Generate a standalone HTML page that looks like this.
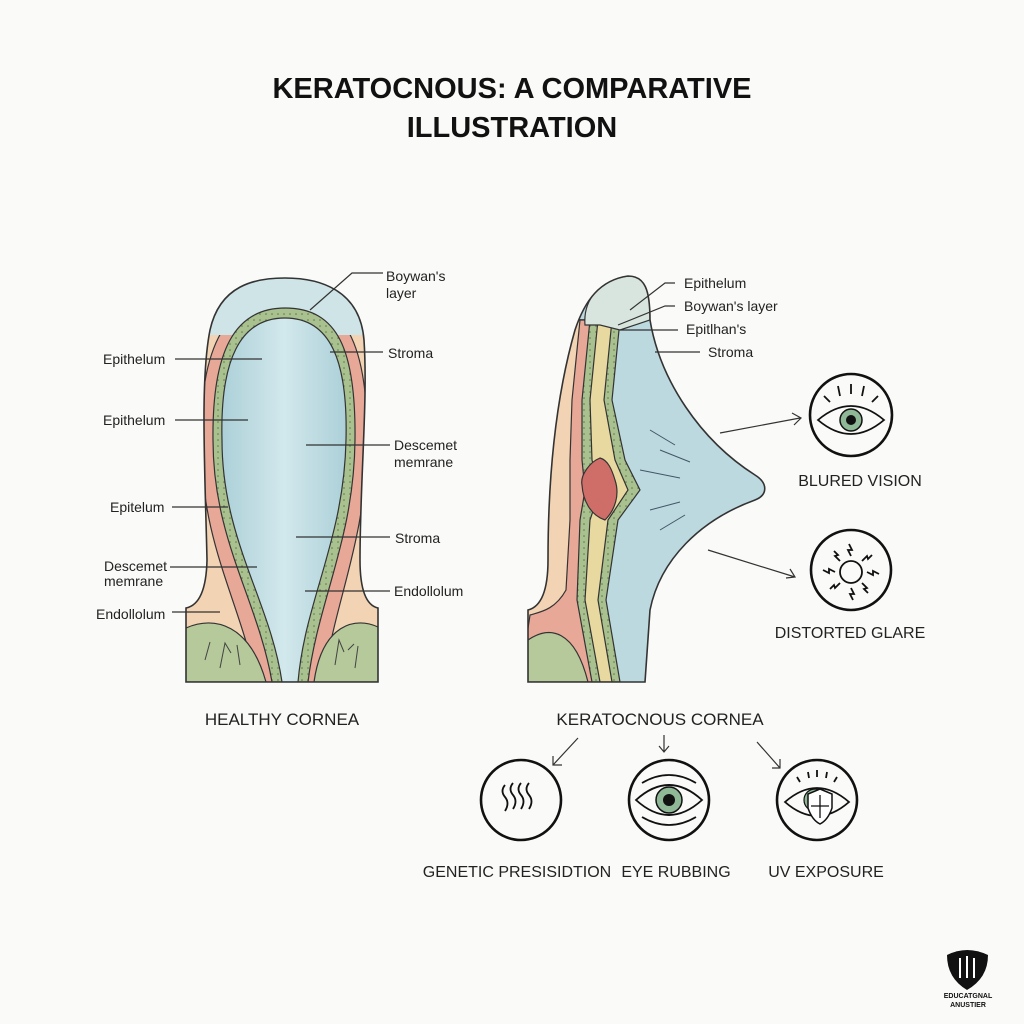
<!DOCTYPE html>
<html><head><meta charset="utf-8"><style>
html,body{margin:0;padding:0;background:#fafaf8;}
svg{display:block}
text{font-family:"Liberation Sans",sans-serif;fill:#222}
</style></head><body>
<svg width="1024" height="1024" viewBox="0 0 1024 1024" xmlns="http://www.w3.org/2000/svg">
<rect width="1024" height="1024" fill="#fafaf8"/>
<defs>
<pattern id="dots" width="6" height="6" patternUnits="userSpaceOnUse"><rect width="6" height="6" fill="#a9c08f"/><circle cx="2" cy="2" r="0.8" fill="#5d7a4c"/></pattern>
<linearGradient id="lens" x1="0" x2="1"><stop offset="0" stop-color="#acd0d8"/><stop offset="0.5" stop-color="#d2e8ec"/><stop offset="1" stop-color="#acd0d8"/></linearGradient>
<clipPath id="lc"><path d="M186,682 L186,608 Q206,604 207,560 C205,470 200,380 210,330 C220,285 255,278 285,278 C320,278 360,290 364,340 C368,400 360,480 360,560 Q360,604 378,608 L378,682 Z"/></clipPath>
<clipPath id="rc"><path d="M528,682 L528,610 Q548,605 548,560 C548,480 555,400 575,330 C585,300 600,280 628,276 C645,276 650,290 650,320 C660,380 700,440 755,475 C768,483 768,495 755,500 C700,520 660,560 650,610 L645,682 Z"/></clipPath>
</defs>

<text x="512" y="98" text-anchor="middle" font-size="29" font-weight="bold" style="fill:#111">KERATOCNOUS: A COMPARATIVE</text>
<text x="512" y="137" text-anchor="middle" font-size="29" font-weight="bold" style="fill:#111">ILLUSTRATION</text>

<!-- LEFT CORNEA -->
<g clip-path="url(#lc)">
<rect x="180" y="270" width="200" height="420" fill="#f2d3b3"/>
<path d="M256,682 C240,600 201,545 201,440 C200,345 228,296 285,296 C345,296 368,345 367,440 C366,545 334,600 324,682 Z" fill="#e8a898" stroke="#333" stroke-width="1.2"/>
<rect x="180" y="270" width="200" height="65" fill="#cfe4e7"/>
<path d="M272,682 C258,600 213,540 213,440 C212,350 235,308 285,308 C338,308 356,350 355,440 C354,540 318,600 308,682 Z" fill="url(#dots)" stroke="#333" stroke-width="1.2"/>
<path d="M282,682 C270,600 222,540 222,440 C220,360 240,318 285,318 C330,318 348,360 346,440 C344,540 305,600 298,682 Z" fill="url(#lens)" stroke="#333" stroke-width="1.2"/>
<path d="M180,682 L186,628 C215,615 250,625 266,682 Z" fill="#b5c99a" stroke="#333" stroke-width="1.2"/>
<path d="M314,682 C322,625 355,615 380,628 L380,682 Z" fill="#b5c99a" stroke="#333" stroke-width="1.2"/>
<path d="M205,660 l5,-18 M220,668 l5,-25 l6,10 M240,665 l-3,-20 M335,665 l4,-25 l5,12 M355,668 l3,-22 M348,650 l6,-6" stroke="#444" fill="none" stroke-width="1"/>
</g>
<path d="M186,682 L186,608 Q206,604 207,560 C205,470 200,380 210,330 C220,285 255,278 285,278 C320,278 360,290 364,340 C368,400 360,480 360,560 Q360,604 378,608 L378,682 Z" fill="none" stroke="#333" stroke-width="1.6"/>

<g stroke="#333" stroke-width="1.2" fill="none">
<path d="M175,359 H262 M175,420 H248 M172,507 H228 M170,567 H257 M172,612 H220"/>
<path d="M383,273 H352 L310,310 M330,352 H383 M306,445 H390 M296,537 H390 M305,591 H390"/>
</g>
<g font-size="14">
<text x="103" y="364">Epithelum</text>
<text x="103" y="425">Epithelum</text>
<text x="110" y="512">Epitelum</text>
<text x="104" y="571">Descemet</text>
<text x="104" y="586">memrane</text>
<text x="96" y="619">Endollolum</text>
<text x="386" y="281">Boywan's</text>
<text x="386" y="298">layer</text>
<text x="388" y="358">Stroma</text>
<text x="394" y="450">Descemet</text>
<text x="394" y="467">memrane</text>
<text x="395" y="543">Stroma</text>
<text x="394" y="596">Endollolum</text>
</g>
<text x="282" y="725" text-anchor="middle" font-size="17">HEALTHY CORNEA</text>

<!-- RIGHT CORNEA -->
<g clip-path="url(#rc)">
<rect x="520" y="270" width="260" height="420" fill="#bcd9df"/>
<path d="M520,320 L620,320 L612,400 L625,460 L640,490 L618,520 L606,600 L620,682 L520,682Z" fill="url(#dots)" stroke="#333" stroke-width="1.2"/>
<path d="M520,320 L612,320 L604,400 L615,460 L628,490 L608,520 L598,600 L612,682 L520,682Z" fill="#e8d9a0" stroke="#333" stroke-width="1.2"/>
<path d="M520,320 L598,320 L590,400 L592,460 L600,490 L590,520 L585,600 L600,682 L520,682Z" fill="url(#dots)" stroke="#333" stroke-width="1.2"/>
<path d="M520,320 L590,320 L582,400 L582,460 L585,490 L580,520 L577,600 L592,682 L520,682Z" fill="#e8a898" stroke="#333" stroke-width="1.2"/>
<path d="M520,320 L580,320 L572,400 L570,460 L570,490 L570,520 L566,590 C555,610 540,612 530,615 L520,682Z" fill="#f2d3b3" stroke="#333" stroke-width="1.2"/>
<path d="M520,682 L528,640 C550,625 575,630 588,682 Z" fill="#b5c99a" stroke="#333" stroke-width="1.2"/>
<path d="M585,325 C583,300 600,278 630,276 C645,277 650,285 650,320 L620,330 L600,325 Z" fill="#d8e5df" stroke="#333" stroke-width="1.2"/>
<path d="M600,458 C590,462 580,475 582,485 C583,500 590,515 605,520 C615,510 620,495 615,480 C612,470 608,460 600,458 Z" fill="#cf6e68" stroke="#333" stroke-width="1.2"/>
<path d="M650,430 l25,15 M660,450 l30,12 M640,470 l40,8 M650,510 l30,-8 M660,530 l25,-15" stroke="#456" fill="none" stroke-width="1"/>
</g>
<path d="M528,682 L528,610 Q548,605 548,560 C548,480 555,400 575,330 C585,300 600,280 628,276 C645,276 650,290 650,320 C660,380 700,440 755,475 C768,483 768,495 755,500 C700,520 660,560 650,610 L645,682 Z" fill="none" stroke="#333" stroke-width="1.6"/>

<g stroke="#333" stroke-width="1.2" fill="none">
<path d="M675,283 H665 L630,310 M675,306 H665 L618,325 M678,330 H620 M700,352 H655"/>
<path d="M720,433 L800,418 M792,413 L801,418 L794,425"/>
<path d="M708,550 L795,577 M786,578 L795,577 L790,569"/>
<path d="M578,738 L553,765 M553,756 L553,765 L562,765"/>
<path d="M664,735 L664,752 M659,746 L664,752 L669,746"/>
<path d="M757,742 L780,768 M780,759 L780,768 L772,768"/>
</g>
<g font-size="14">
<text x="684" y="288">Epithelum</text>
<text x="684" y="311">Boywan's layer</text>
<text x="686" y="334">Epitlhan's</text>
<text x="708" y="357">Stroma</text>
</g>
<text x="660" y="725" text-anchor="middle" font-size="17">KERATOCNOUS CORNEA</text>

<!-- icons -->
<g stroke="#111" stroke-width="2.6" fill="none">
<circle cx="851" cy="415" r="41"/>
<circle cx="851" cy="570" r="40"/>
<circle cx="521" cy="800" r="40"/>
<circle cx="669" cy="800" r="40"/>
<circle cx="817" cy="800" r="40"/>
</g>
<g stroke="#111" stroke-width="1.8" fill="none">
<path d="M818,420 Q851,392 884,420 Q851,448 818,420Z"/>
<path d="M830,402 l-6,-6 M840,396 l-2,-10 M851,394 v-10 M862,396 l2,-10 M872,402 l6,-6"/>
<path d="M636,800 Q669,770 702,800 Q669,830 636,800Z"/>
<path d="M642,783 Q669,767 696,783 M642,817 Q669,833 696,817"/>
<path d="M785,802 Q817,774 849,802 Q817,830 785,802Z"/>
<path d="M800,782 l-3,-5 M809,778 l-1,-6 M817,777 v-7 M826,778 l1,-6 M834,782 l3,-5"/>
<path d="M505,785 q-5,6 0,12 q5,6 0,14 M513,783 q-5,6 0,12 q5,6 0,14 M521,783 q-5,6 0,12 q5,6 0,14 M529,783 q-5,6 0,12 q5,6 0,14"/>
<circle cx="851" cy="572" r="11"/>
<path d="M851,556 l-3,-6 l4,0 l-3,-6 M851,588 l3,6 l-4,0 l3,6 M835,572 l-6,-3 l0,4 l-6,-3 M867,572 l6,3 l0,-4 l6,3 M840,561 l-5,-5 l3,-1 l-4,-4 M862,583 l5,5 l-3,1 l4,4 M862,561 l5,-5 l1,3 l4,-4 M840,583 l-5,5 l-1,-3 l-4,4"/>
</g>
<circle cx="851" cy="420" r="11" fill="#8fb896" stroke="#111" stroke-width="1.5"/>
<circle cx="851" cy="420" r="5" fill="#111"/>
<circle cx="669" cy="800" r="13" fill="#8fb896" stroke="#111" stroke-width="1.5"/>
<circle cx="669" cy="800" r="6" fill="#111"/>
<circle cx="815" cy="800" r="11" fill="#8fb896" stroke="#111" stroke-width="1.2"/>
<path d="M820,789 L832,794 L832,808 Q828,820 820,824 Q812,820 808,808 L808,794 Z" fill="#fff" stroke="#111" stroke-width="1.5"/>
<path d="M820,795 V818 M811,806 H829" stroke="#111" stroke-width="1.3"/>

<g font-size="16">
<text x="860" y="486" text-anchor="middle">BLURED VISION</text>
<text x="850" y="638" text-anchor="middle">DISTORTED GLARE</text>
<text x="517" y="877" text-anchor="middle">GENETIC PRESISIDTION</text>
<text x="676" y="877" text-anchor="middle">EYE RUBBING</text>
<text x="826" y="877" text-anchor="middle">UV EXPOSURE</text>
</g>

<!-- logo -->
<path d="M947,955 Q967,945 988,955 Q988,978 967,990 Q947,978 947,955Z" fill="#111"/>
<path d="M960,958 v20 M967,956 v22 M974,958 v20" stroke="#fff" stroke-width="2"/>
<text x="968" y="998" text-anchor="middle" font-size="7" font-weight="bold" style="fill:#111">EDUCATGNAL</text>
<text x="968" y="1007" text-anchor="middle" font-size="7" font-weight="bold" style="fill:#111">ANUSTIER</text>
</svg>
</body></html>
